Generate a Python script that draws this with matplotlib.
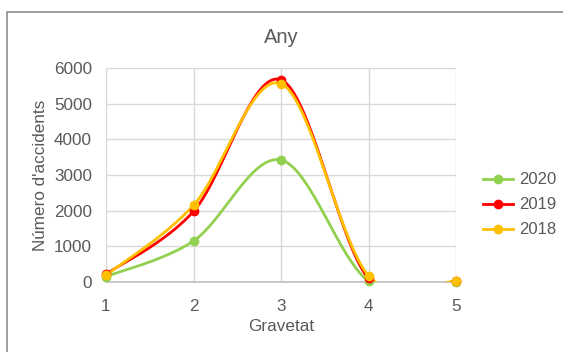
import numpy as np
import matplotlib.pyplot as plt
from matplotlib.patches import Rectangle

plt.rcParams['font.family'] = ['Liberation Sans', 'DejaVu Sans']

gravetat = [1, 2, 3, 4, 5]
any_2020 = [150, 1150, 3420, 30, 10]
any_2019 = [220, 1980, 5670, 100, 15]
any_2018 = [190, 2150, 5560, 180, 20]

series = [('2020', any_2020, '#92D050'),
          ('2019', any_2019, '#FF0000'),
          ('2018', any_2018, '#FFC000')]


def smooth(xs, ys, n=40):
    # bezier segments with neighbour-based control points
    p = np.column_stack([xs, ys]).astype(float)
    pts = []
    for i in range(len(p) - 1):
        p0 = p[i - 1] if i > 0 else p[i]
        p1, p2 = p[i], p[i + 1]
        p3 = p[i + 2] if i + 2 < len(p) else p[i + 1]
        c1 = p1 + (p2 - p0) / 6
        c2 = p2 - (p3 - p1) / 6
        t = np.linspace(0, 1, n)[:, None]
        seg = ((1 - t) ** 3) * p1 + 3 * ((1 - t) ** 2) * t * c1 \
            + 3 * (1 - t) * t ** 2 * c2 + t ** 3 * p2
        pts.append(seg if i == 0 else seg[1:])
    pts = np.vstack(pts)
    return pts[:, 0], pts[:, 1]


fig = plt.figure(figsize=(5.63, 3.52), dpi=100)
fig.patches.append(Rectangle((7 / 563, -0.05), 1.2, 1 - 12 / 352 + 0.05,
                             transform=fig.transFigure, fill=False,
                             edgecolor='#8C8C8C', linewidth=1.2))

ax = fig.add_axes([106 / 563, 1 - 282 / 352, 350 / 563, 214 / 352])
text_c = '#595959'

for label, vals, col in series:
    sx, sy = smooth(gravetat, vals)
    ax.plot(sx, sy, color=col, lw=2, solid_capstyle='round', zorder=3)
    ax.plot(gravetat, vals, 'o', color=col, ms=6, zorder=4, clip_on=False)
    ax.plot([], [], '-o', color=col, lw=2, ms=6, label=label)

ax.set_xlim(1, 5)
ax.set_ylim(0, 6000)
ax.set_xticks(gravetat)
ax.set_yticks(range(0, 6001, 1000))
ax.grid(color='#D9D9D9', lw=1)
ax.set_axisbelow(True)
for s in ['top', 'right', 'left']:
    ax.spines[s].set_visible(False)
ax.spines['bottom'].set_color('#BFBFBF')
ax.spines['bottom'].set_linewidth(1.2)
ax.tick_params(length=0, labelsize=12.3, colors=text_c)
ax.tick_params(axis='x', pad=12)
ax.tick_params(axis='y', pad=10)

ax.set_title('Any', fontsize=14.5, color=text_c, pad=18)
ax.set_xlabel('Gravetat', fontsize=12.3, color=text_c, labelpad=4)
ax.set_ylabel("Número d'accidents", fontsize=12.3, color=text_c, labelpad=4)

ax.legend(loc='center left', bbox_to_anchor=(1.035, 0.36), frameon=False,
          fontsize=12, labelcolor=text_c, handlelength=1.8,
          handletextpad=0.35, labelspacing=0.6)

fig.savefig('out.png', dpi=100)
